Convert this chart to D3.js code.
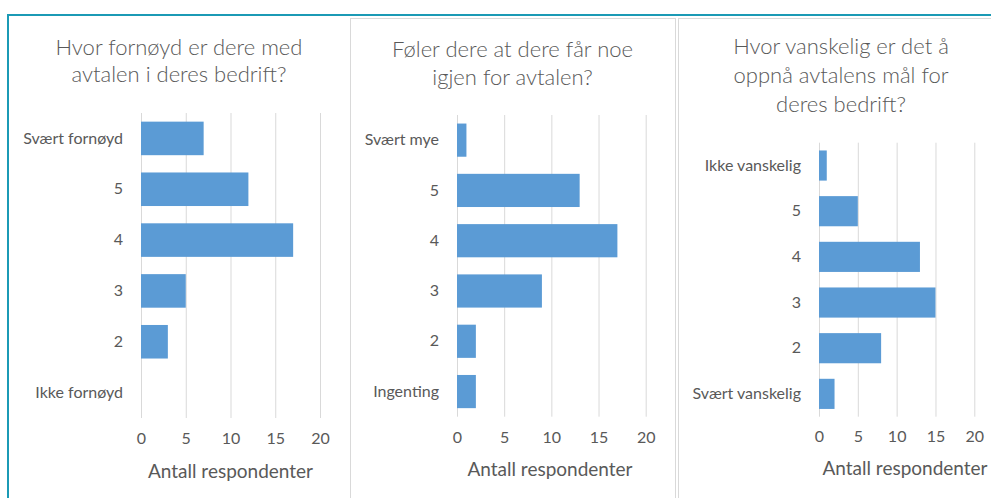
<!DOCTYPE html>
<html>
<head>
<meta charset="utf-8">
<script src="https://cdn.jsdelivr.net/npm/d3@7"></script>
<style>
  body { margin: 0; background: #fff; }
  svg text { font-family: Lato, "Open Sans", sans-serif; fill: #595959; }
</style>
</head>
<body>
<svg id="chart" width="991" height="498"></svg>
<script>
// data
const titles1 = ["Hvor fornøyd er dere med", "avtalen i deres bedrift?"];
const categories1 = ["Svært fornøyd", "5", "4", "3", "2", "Ikke fornøyd"];
const values1 = [7, 12, 17, 5, 3, 0];

const titles2 = ["Føler dere at dere får noe", "igjen for avtalen?"];
const categories2 = ["Svært mye", "5", "4", "3", "2", "Ingenting"];
const values2 = [1, 13, 17, 9, 2, 2];

const titles3 = ["Hvor vanskelig er det å", "oppnå avtalens mål for", "deres bedrift?"];
const categories3 = ["Ikke vanskelig", "5", "4", "3", "2", "Svært vanskelig"];
const values3 = [1, 5, 13, 15, 8, 2];

const xTicks = [0, 5, 10, 15, 20];
const axisTitle = "Antall respondenter";

const svg = d3.select("#chart");

// frame
svg.append("rect").attr("x", 350.5).attr("y", 18.5).attr("width", 325).attr("height", 490)
    .attr("fill", "none").attr("stroke", "#d9d9d9");
svg.append("rect").attr("x", 678.5).attr("y", 18.5).attr("width", 330).attr("height", 490)
    .attr("fill", "none").attr("stroke", "#d9d9d9");
svg.append("line").attr("x1", 7).attr("x2", 991).attr("y1", 15).attr("y2", 15)
    .attr("stroke", "#1b9ab5").attr("stroke-width", 2);
svg.append("line").attr("x1", 8).attr("x2", 8).attr("y1", 14).attr("y2", 498)
    .attr("stroke", "#1b9ab5").attr("stroke-width", 2);

function drawPanel(cfg) {
    const x = d3.scaleLinear().domain([0, 20]).range([cfg.x0, cfg.x1]);
    const y = d3.scaleBand().domain(cfg.categories).range([cfg.yTop, cfg.yBot])
        .paddingInner(0.34).paddingOuter(0.17);

    const g = svg.append("g");

    // title
    g.selectAll(".title")
        .data(cfg.titles)
        .enter().append("text")
        .attr("x", cfg.titleX)
        .attr("y", (d, i) => cfg.titleY[i])
        .attr("dy", "0.35em")
        .attr("text-anchor", "middle")
        .style("font-size", "22px")
        .style("font-weight", 300)
        .text(d => d);

    // grid + tick labels
    const xAxis = g.append("g")
        .attr("transform", `translate(0,${cfg.yBot})`)
        .call(d3.axisBottom(x).tickValues(xTicks).tickSize(-(cfg.yBot - cfg.yTop)).tickPadding(cfg.tickPad));
    xAxis.select(".domain").remove();
    xAxis.selectAll(".tick line").attr("stroke", "#d9d9d9");
    xAxis.selectAll(".tick text").style("font-size", "16px").attr("fill", "#595959");

    // category labels
    const yAxis = g.append("g")
        .attr("transform", `translate(${cfg.x0},0)`)
        .call(d3.axisLeft(y).tickSize(0).tickPadding(18));
    yAxis.select(".domain").remove();
    yAxis.selectAll(".tick text").style("font-size", "16px").attr("fill", "#595959");

    // bars
    g.selectAll(".bar")
        .data(cfg.values)
        .enter().append("rect")
        .attr("x", x(0))
        .attr("y", (d, i) => y(cfg.categories[i]))
        .attr("width", d => x(d) - x(0))
        .attr("height", y.bandwidth())
        .attr("fill", "#5b9bd5");

    g.append("text")
        .attr("x", cfg.axisTitleX)
        .attr("y", cfg.axisTitleY)
        .attr("dy", "0.35em")
        .attr("text-anchor", "middle")
        .style("font-size", "19px")
        .text(axisTitle);
}

drawPanel({
    titles: titles1, categories: categories1, values: values1,
    x0: 141, x1: 320, yTop: 113, yBot: 418, tickPad: 15,
    titleX: 179, titleY: [47, 74], axisTitleX: 230.5, axisTitleY: 471
});
drawPanel({
    titles: titles2, categories: categories2, values: values2,
    x0: 457, x1: 645.7, yTop: 115, yBot: 416.7, tickPad: 15,
    titleX: 512.5, titleY: [49.3, 77.3], axisTitleX: 550, axisTitleY: 469
});
drawPanel({
    titles: titles3, categories: categories3, values: values3,
    x0: 819, x1: 974.3, yTop: 142.7, yBot: 416.7, tickPad: 14,
    titleX: 841, titleY: [46.7, 75, 104], axisTitleX: 905, axisTitleY: 468
});
</script>
</body>
</html>
